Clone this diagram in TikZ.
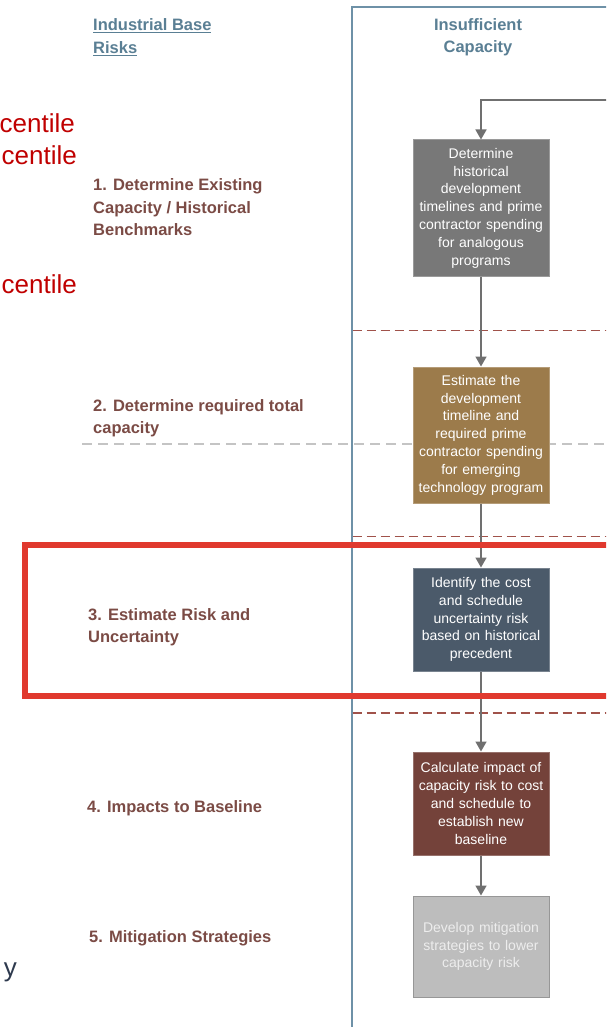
\documentclass[tikz,border=0pt]{standalone}
\usepackage{fontspec}
\setmainfont{Liberation Sans}
\usetikzlibrary{arrows.meta}
\definecolor{hdrblue}{HTML}{5A7F94}
\definecolor{frameblue}{HTML}{6E91A7}
\definecolor{lblbrown}{HTML}{7B4B45}
\definecolor{dashred}{HTML}{A0524A}
\definecolor{dashgray}{HTML}{C4C4C4}
\definecolor{hlred}{HTML}{E0392E}
\definecolor{pctred}{HTML}{C00000}
\definecolor{darkslate}{HTML}{2E3A4E}
\definecolor{arrgray}{HTML}{707070}
\definecolor{boxA}{HTML}{787878}
\definecolor{boxB}{HTML}{9C7B4B}
\definecolor{boxC}{HTML}{4B5A6A}
\definecolor{boxD}{HTML}{74423A}
\definecolor{boxE}{HTML}{BDBDBD}
\tikzset{
  stepbox/.style={minimum width=136pt, inner sep=0pt, text width=134pt, align=center,
    font=\fontsize{14}{17.8}\selectfont, text=white, line width=1pt},
  lbl/.style={anchor=west, inner sep=0pt, align=left, text=lblbrown,
    font=\fontsize{16.5}{22.5}\selectfont\bfseries},
  hdr/.style={inner sep=0pt, align=center, text=hdrblue,
    font=\fontsize{16.5}{22.5}\selectfont\bfseries},
  pct/.style={anchor=base east, inner sep=0pt, text=pctred, font=\fontsize{26}{30}\selectfont},
  flow/.style={draw=arrgray, line width=1.6pt, -{Triangle[width=11pt,length=10pt]}},
  reddash/.style={draw=dashred, line width=1.3pt, dash pattern=on 9pt off 5pt},
  graydash/.style={draw=dashgray, line width=1.3pt, dash pattern=on 10pt off 6pt},
}
\begin{document}
\begin{tikzpicture}[x=1pt, y=-1pt]
\clip (0,0) rectangle (606,1027);
\fill[white] (0,0) rectangle (606,1027);

% cut-off texts at left
\node[pct] (c1) at (75,133) {centile};
\node[pct] (c2) at (77,165) {centile};
\node[pct] (c3) at (77,293) {centile};
\node[pct, text=darkslate] (yy) at (17,976) {y};

% header left
\node[hdr, anchor=west, align=left] (ibr) at (93,37) {\underline{Industrial Base}\\\underline{Risks}};

% left labels
\node[lbl] (l1) at (93,207.5) {1. Determine Existing\\Capacity / Historical\\Benchmarks};
\node[lbl] (l2) at (93,418) {2. Determine required total\\capacity};
\node[lbl] (l3) at (88,627) {3. Estimate Risk and\\Uncertainty};
\node[lbl] (l4) at (87,808) {4. Impacts to Baseline};
\node[lbl] (l5) at (89,938) {5. Mitigation Strategies};

% frame
\coordinate (fbl) at (351.5,1030);
\coordinate (ftl) at (351.5,7);
\coordinate (ftr) at (610,7);
\draw[frameblue, line width=2pt] (fbl) -- (ftl) -- (ftr);

\node[hdr] (ic) at (478,37) {Insufficient\\Capacity};

% dashed separators
\coordinate (d1a) at (352.5,330.5); \coordinate (d1b) at (610,330.5);
\coordinate (d2a) at (352.5,536.5); \coordinate (d2b) at (610,536.5);
\coordinate (d3a) at (352.5,713); \coordinate (d3b) at (610,713);
\coordinate (gda) at (82,444); \coordinate (gdb) at (610,444);
\draw[reddash] (d1a) -- (d1b);
\draw[reddash] (d2a) -- (d2b);
\draw[reddash] (d3a) -- (d3b);
\draw[graydash] (gda) -- (gdb);

% boxes
\node[stepbox, fill=boxA, draw=boxA!75!white, minimum height=136pt] (b1) at (481,208)
  {Determine\\historical\\development\\timelines and prime\\contractor spending\\for analogous\\programs};
\node[stepbox, fill=boxB, draw=boxB!75!white, minimum height=136pt] (b2) at (481,435)
  {Estimate the\\development\\timeline and\\required prime\\contractor spending\\for emerging\\technology program};
\node[stepbox, fill=boxC, draw=boxC!75!white, minimum height=103pt] (b3) at (481,619.5)
  {Identify the cost\\and schedule\\uncertainty risk\\based on historical\\precedent};
\node[stepbox, fill=boxD, draw=boxD!75!white, minimum height=103pt] (b4) at (481,803.5)
  {Calculate impact of\\capacity risk to cost\\and schedule to\\establish new\\baseline};
\node[stepbox, fill=boxE, draw=boxE!80!black, minimum height=101pt, text=white!93!black] (b5) at (481,946.5)
  {Develop mitigation\\strategies to lower\\capacity risk};

% connectors
\coordinate (loopstart) at (610,100);
\draw[flow] (loopstart) -- (b1.north |- loopstart) -- (b1.north);
\draw[flow] (b1) -- (b2);
\draw[flow] (b2) -- (b3);
\draw[flow] (b3) -- (b4);
\draw[flow] (b4) -- (b5);

% highlight rectangle
\coordinate (hl1) at (24.7,545);
\coordinate (hl2) at (620,696);
\draw[hlred, line width=6pt] (hl1) rectangle (hl2);
\end{tikzpicture}
\end{document}
